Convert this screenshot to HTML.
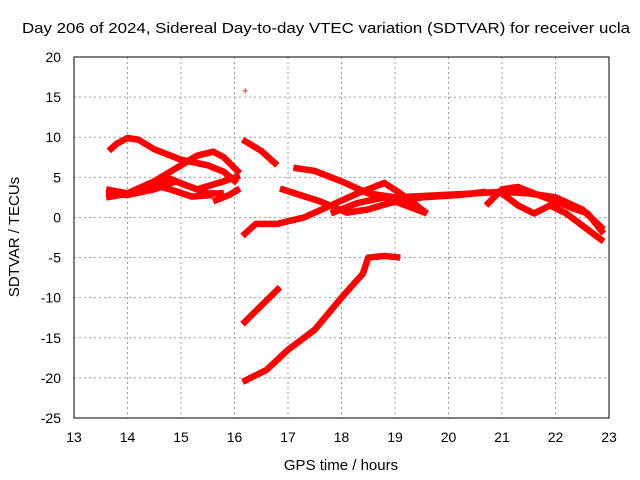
<!DOCTYPE html>
<html><head><meta charset="utf-8"><style>
body{margin:0;background:#fff}
svg{display:block;font-family:"Liberation Sans",sans-serif;font-size:14px}
</style></head><body>
<svg id="chart" width="640" height="480">
<text x="22" y="33" textLength="608" lengthAdjust="spacingAndGlyphs" font-size="15">Day 206 of 2024, Sidereal Day-to-day VTEC variation (SDTVAR) for receiver ucla</text>
<text x="341" y="470" text-anchor="middle" font-size="15">GPS time / hours</text>
<text transform="translate(19,237) rotate(-90)" text-anchor="middle" font-size="15">SDTVAR / TECUs</text>
<g id="grid"></g><g id="ticks"></g><g id="series"></g>
<rect x="74" y="57" width="535" height="361" fill="none" stroke="#000"/>
</svg>
<script>
const xTicks=[13,14,15,16,17,18,19,20,21,22,23];
const yTicks=[20,15,10,5,0,-5,-10,-15,-20,-25];
const trackA=[[13.65,8.3],[13.8,9.2],[14.0,9.9],[14.2,9.7],[14.5,8.5],[15.0,7.2],[15.5,6.5],[15.8,5.7],[16.05,4.3]];
const trackB=[[13.6,3.5],[14.0,3.0],[14.5,4.5],[15.0,6.5],[15.3,7.7],[15.6,8.2],[15.8,7.5],[16.1,5.5]];
const trackC=[[13.6,3.0],[14.0,2.8],[14.5,3.5],[14.9,4.5],[15.3,3.5],[15.8,4.5],[16.1,5.2]];
const trackD=[[13.6,2.5],[14.2,3.2],[14.8,4.8],[15.1,4.0],[15.5,3.0],[15.8,3.0]];
const trackE=[[13.7,3.3],[14.0,3.0],[14.5,4.0],[14.8,3.5],[15.2,2.6],[15.6,2.8]];
const trackF=[[15.6,2.0],[15.9,2.8],[16.1,3.6]];
const trackG=[[16.15,9.7],[16.5,8.3],[16.8,6.5]];
const trackH=[[16.15,-2.3],[16.4,-0.8],[16.8,-0.8],[17.3,0.0],[17.8,1.5],[18.3,3.0],[18.8,4.3],[19.1,3.0],[19.6,0.5]];
const trackI=[[16.85,3.6],[17.6,2.0],[18.1,0.6],[18.5,1.0],[18.9,1.8],[19.5,2.5],[20.2,2.8],[20.7,3.2]];
const trackJ=[[17.1,6.2],[17.5,5.8],[18.0,4.5],[18.5,3.0],[19.0,2.5],[19.6,2.7],[20.5,3.0],[21.0,3.2],[21.5,3.0],[22.0,2.5],[22.5,1.0],[22.9,-1.5]];
const trackK=[[17.8,0.5],[18.3,1.8],[18.8,2.5],[19.2,1.5],[19.6,0.5]];
const trackL=[[20.7,1.5],[21.0,3.5],[21.3,3.8],[21.6,3.0],[22.0,2.0],[22.3,1.2],[22.6,0.5],[22.9,-2.0]];
const trackM=[[21.0,3.0],[21.3,1.5],[21.6,0.5],[21.9,1.5],[22.2,0.5],[22.6,-1.5],[22.9,-3.0]];
const trackN=[[16.15,-13.3],[16.5,-11.0],[16.85,-8.7]];
const trackO=[[16.15,-20.5],[16.6,-19.0],[17.0,-16.5],[17.5,-14.0],[18.0,-10.0],[18.4,-7.0],[18.5,-5.0],[18.8,-4.8],[19.1,-5.0]];
const outliers=[[16.2,15.8]];
const tracks=[trackA,trackB,trackC,trackD,trackE,trackF,trackG,trackH,trackI,trackJ,trackK,trackL,trackM,trackN,trackO];
const NS="http://www.w3.org/2000/svg";
const X=v=>74+(v-13)*53.5, Y=v=>57+(20-v)*361/45;
const grid=document.getElementById('grid'),tk=document.getElementById('ticks'),ser=document.getElementById('series');
function mk(tag,at,parent){const e=document.createElementNS(NS,tag);for(const k in at)e.setAttribute(k,at[k]);parent.appendChild(e);return e;}
xTicks.forEach(t=>{
 const g=mk('line',{x1:X(t),x2:X(t),y1:57,y2:418,stroke:'#999','stroke-dasharray':'2,3'},grid);
 
 
 const l=mk('text',{x:X(t),y:442,'text-anchor':'middle'},tk);l.textContent=t;
 
 
});
yTicks.forEach(t=>{
 const g=mk('line',{x1:74,x2:609,y1:Y(t),y2:Y(t),stroke:'#999','stroke-dasharray':'2,3'},grid);
 
 
 const l=mk('text',{x:61,y:Y(t)+5,'text-anchor':'end'},tk);l.textContent=t;
 
 
});
tracks.forEach(tr=>{
 const p=mk('polyline',{points:tr.map(d=>X(d[0])+','+Y(d[1])).join(' '),fill:'none',stroke:'#f00','stroke-width':6.5,'stroke-linejoin':'round'},ser);
 
 
});
outliers.forEach(d=>{
 const t=mk('text',{x:X(d[0]),y:Y(d[1])+4,'text-anchor':'middle',fill:'#f00','font-size':'11'},ser);t.textContent='+';
 
 
});
</script>
</body></html>
